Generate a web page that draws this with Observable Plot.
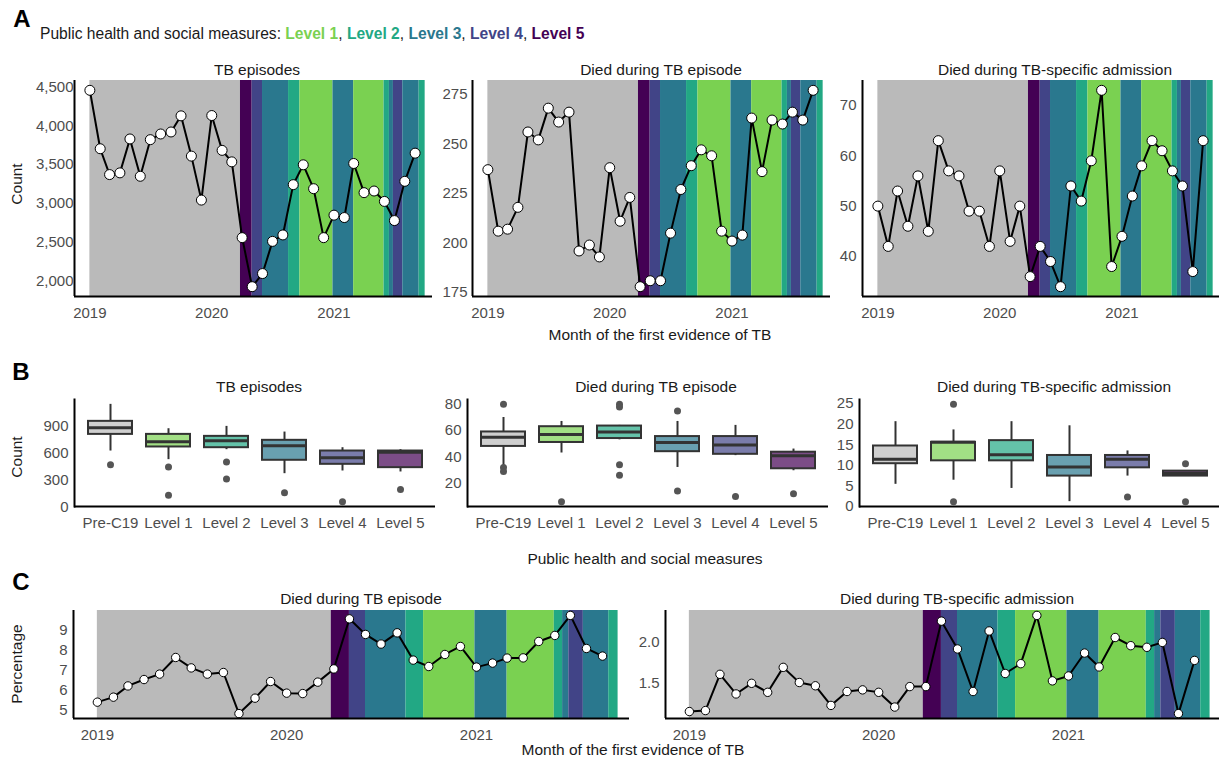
<!DOCTYPE html>
<html><head><meta charset="utf-8">
<script src="https://cdn.jsdelivr.net/npm/d3@7"></script>
<script src="https://cdn.jsdelivr.net/npm/@observablehq/plot@0.6"></script>
<style>
body{margin:0;background:#fff;overflow:hidden;}
#root{position:relative;width:1219px;height:757px;overflow:hidden;font-family:"Liberation Sans",Arial,sans-serif;color:#1a1a1a;}
.t{position:absolute;white-space:nowrap;transform:translate(-50%,-50%);font-size:15.5px;line-height:1;}
.tl{position:absolute;white-space:nowrap;transform:translate(0,-50%);font-size:15.6px;line-height:1;}
.rot{position:absolute;white-space:nowrap;transform:translate(-50%,-50%) rotate(-90deg);font-size:15.5px;line-height:1;}
.big{font-weight:bold;font-size:24px;color:#000;}
</style></head><body><div id="root"></div>
<script>
// ---------- DATA ----------
const months = ["2019-01","2019-02","2019-03","2019-04","2019-05","2019-06","2019-07","2019-08","2019-09","2019-10","2019-11","2019-12",
"2020-01","2020-02","2020-03","2020-04","2020-05","2020-06","2020-07","2020-08","2020-09","2020-10","2020-11","2020-12",
"2021-01","2021-02","2021-03","2021-04","2021-05","2021-06","2021-07","2021-08","2021-09"];
const tbEpisodes = [4457,3704,3371,3393,3830,3349,3821,3894,3920,4128,3609,3042,4132,3683,3535,2558,1926,2095,2510,2593,3241,3497,3189,2558,2848,2817,3514,3138,3159,3025,2778,3284,3647];
const diedEpisode = [237,206,207,218,256,252,268,261,266,196,199,193,238,211,223,178,181,181,205,227,239,247,244,206,201,204,263,236,262,260,266,262,277];
const diedAdmission = [50,42,53,46,56,45,63,57,56,49,49,42,57,43,50,36,42,39,34,54,51,59,73,38,44,52,58,63,61,57,54,37,63];
const pctEpisode = [5.42,5.67,6.23,6.55,6.82,7.65,7.13,6.82,6.90,4.85,5.62,6.45,5.87,5.85,6.42,7.08,9.58,8.80,8.32,8.88,7.52,7.20,7.80,8.20,7.17,7.37,7.62,7.63,8.45,8.75,9.75,8.10,7.72];
const pctAdmission = [1.155,1.167,1.61,1.37,1.50,1.39,1.695,1.51,1.47,1.23,1.40,1.42,1.39,1.21,1.46,1.46,2.26,1.92,1.40,2.14,1.62,1.74,2.33,1.53,1.59,1.87,1.70,2.06,1.96,1.94,2.00,1.13,1.78];

// measure periods
const phaseStart = ["2019-01-01","2020-03-27","2020-05-01","2020-06-01","2020-08-18","2020-09-21","2020-12-29","2021-03-01","2021-05-31","2021-06-16","2021-06-28","2021-07-26","2021-09-13"];
const phaseEnd   = ["2020-03-27","2020-05-01","2020-06-01","2020-08-18","2020-09-21","2020-12-29","2021-03-01","2021-05-31","2021-06-16","2021-06-28","2021-07-26","2021-09-13","2021-10-01"];
const phaseLevel = ["Pre-C19","Level 5","Level 4","Level 3","Level 2","Level 1","Level 3","Level 1","Level 2","Level 3","Level 4","Level 3","Level 2"];

const categories = ["Pre-C19","Level 1","Level 2","Level 3","Level 4","Level 5"];
const levelColors = ["#bababa","#7AD151","#22A884","#2A788E","#414487","#440154"];

// box stats: [lower whisker, q1, median, q3, upper whisker]
const boxTB = [[622,807,881,952,1141],[526,667,726,807,870],[637,659,737,785,896],[370,519,681,741,833],[400,474,548,622,659],[389,437,607,622,637]];
const outTB = [[470],[444,130],[500,311],[159],[59],[193]];
const boxDied = [[33,48,55,59,70],[43,51,57,63,67],[53,54,59,63.5,64],[32,44,51,55.5,67],[41,42,49,55.5,64],[29.5,31,41,43.6,46]];
const outDied = [[80,32,29],[6],[80,78,34,26],[75,14],[10],[12]];
const boxAdm = [[5.4,10.4,11.5,14.7,20.6],[6.4,11.1,15.6,15.6,18.6],[4.4,11.1,12.6,16,20.6],[1.2,7.4,9.6,12.4,19.6],[7.4,9.4,11.5,12.4,13.5],[7.4,7.4,8,8.6,8.6]];
const outAdm = [[],[24.8,1.2],[],[],[2.3],[10.4,1.2]];

const yearTicks = ["2019-01-01","2020-01-01","2021-01-01"];
const xDomainStr = ["2018-11-16","2021-10-23"];

// ---------- BUILD ----------
const pD = d3.utcParse("%Y-%m-%d"), pM = d3.utcParse("%Y-%m");
const dates = months.map(pM);
const series = dates.map((d,i)=>({date:d, tb:tbEpisodes[i], died:diedEpisode[i], adm:diedAdmission[i], pe:pctEpisode[i], pa:pctAdmission[i]}));
const phases = phaseStart.map((s,i)=>({start:pD(s), end:pD(phaseEnd[i]), level:phaseLevel[i]}));
const xDomain = xDomainStr.map(pD);
const colorScale = {domain: categories, range: levelColors};
const FONT = '"Liberation Sans",Arial,sans-serif';
const ML=50, MT=10, MR=10, MB=30;
const root = document.getElementById("root");

function place(svg, f){
  svg.style.position="absolute";
  svg.style.left=(f.l-ML)+"px";
  svg.style.top=(f.t-MT)+"px";
  root.appendChild(svg);
}
function expand(vals){
  const [a,b]=d3.extent(vals); const e=(b-a)*0.05; return [a-e,b+e];
}

function tsPlot(key, f, yTicks, yFmt, r, pad){
  const yd = expand(series.map(d=>d[key]));
  const svg = Plot.plot({
    width: f.r-f.l+ML+MR, height: f.b-f.t+MT+MB,
    marginLeft:ML, marginRight:MR, marginTop:MT, marginBottom:MB,
    style:{fontSize:"15px", fontFamily:FONT, background:"transparent", overflow:"visible"},
    x:{type:"utc", domain:xDomain},
    y:{domain:yd},
    color: colorScale,
    marks:[
      Plot.rect(phases,{x1:"start", x2:"end", y1:()=>yd[0], y2:()=>yd[1], fill:"level"}),
      Plot.line(series,{x:"date", y:key, stroke:"#000", strokeWidth:2}),
      Plot.dot(series,{x:"date", y:key, r, fill:"#fff", stroke:"#000", strokeWidth:1}),
      Plot.ruleY([yd[0]],{stroke:"#000", strokeWidth:2}),
      Plot.ruleX([xDomain[0]],{stroke:"#000", strokeWidth:2}),
      Plot.axisY({ticks:yTicks, tickSize:0, tickPadding:pad, tickFormat:yFmt, color:"#4d4d4d", label:null}),
      Plot.axisX({ticks:yearTicks.map(pD), tickSize:0, tickPadding:11, tickFormat:d3.utcFormat("%Y"), color:"#4d4d4d", label:null})
    ]
  });
  place(svg, f);
}

function boxPlot(stats, outs, f, yTicks){
  const rows = categories.map((c,i)=>({cat:c, lo:stats[i][0], q1:stats[i][1], med:stats[i][2], q3:stats[i][3], hi:stats[i][4]}));
  const orows = [];
  categories.forEach((c,i)=>outs[i].forEach(v=>orows.push({cat:c, v})));
  const yd = expand(rows.flatMap(d=>[d.lo,d.hi]).concat(orows.map(d=>d.v)));
  const svg = Plot.plot({
    width: f.r-f.l+ML+MR, height: f.b-f.t+MT+MB,
    marginLeft:ML, marginRight:MR, marginTop:MT, marginBottom:MB,
    style:{fontSize:"15px", fontFamily:FONT, background:"transparent", overflow:"visible"},
    x:{type:"band", domain:categories, paddingInner:0.25, paddingOuter:0.225},
    y:{domain:yd},
    color: colorScale,
    marks:[
      Plot.ruleX(rows,{x:"cat", y1:"lo", y2:"hi", stroke:"#333", strokeWidth:2}),
      Plot.barY(rows,{x:"cat", y1:"q1", y2:"q3", fill:"#fff"}),
      Plot.barY(rows,{x:"cat", y1:"q1", y2:"q3", fill:"cat", fillOpacity:0.7, stroke:"#333", strokeWidth:2}),
      Plot.tickY(rows,{x:"cat", y:"med", stroke:"#333", strokeWidth:3}),
      Plot.dot(orows,{x:"cat", y:"v", r:3.5, fill:"#555", stroke:"none"}),
      Plot.ruleY([yd[0]],{stroke:"#000", strokeWidth:2}),
      Plot.axisY({ticks:yTicks, tickSize:0, tickPadding:6, color:"#4d4d4d", label:null}),
      Plot.axisX({tickSize:0, tickPadding:11, color:"#4d4d4d", label:null}),
      Plot.frame({anchor:"left", stroke:"#000", strokeWidth:2})
    ]
  });
  place(svg, f);
}

const fA1={l:74,r:432,t:80,b:296}, fA2={l:472,r:830,t:80,b:296}, fA3={l:862,r:1220,t:80,b:296};
const fB1={l:74,r:435,t:399,b:506}, fB2={l:467,r:828,t:399,b:506}, fB3={l:859,r:1220,t:399,b:506};
const fC1={l:73,r:629,t:610,b:718}, fC2={l:665,r:1221,t:610,b:718};

tsPlot("tb", fA1, [2000,2500,3000,3500,4000,4500], d3.format(","), 5, 1);
tsPlot("died", fA2, [175,200,225,250,275], d3.format("d"), 5, 5);
tsPlot("adm", fA3, [40,50,60,70], d3.format("d"), 5, 6);
boxPlot(boxTB, outTB, fB1, [0,300,600,900]);
boxPlot(boxDied, outDied, fB2, [20,40,60,80]);
boxPlot(boxAdm, outAdm, fB3, [0,5,10,15,20,25]);
tsPlot("pe", fC1, [5,6,7,8,9], d3.format("d"), 4.2, 6);
tsPlot("pa", fC2, [1.5,2.0], d3.format(".1f"), 4.2, 6);

// ---------- TEXT ----------
function txt(cls, x, y, html){
  const d=document.createElement("div"); d.className=cls; d.style.left=x+"px"; d.style.top=y+"px"; d.innerHTML=html; root.appendChild(d);
}
txt("t big", 22, 19, "A");
txt("t big", 21, 372, "B");
txt("t big", 21, 582, "C");
const legendParts = categories.slice(1).map((c,i)=>`<b style="color:${levelColors[i+1]}">${c}</b>`).join(", ");
txt("tl", 40, 34, "Public health and social measures: " + legendParts);
txt("t", 257, 70, "TB episodes");
txt("t", 661, 70, "Died during TB episode");
txt("t", 1055, 70, "Died during TB-specific admission");
txt("t", 660, 335, "Month of the first evidence of TB");
txt("rot", 17, 184, "Count");
txt("t", 259, 387, "TB episodes");
txt("t", 656, 387, "Died during TB episode");
txt("t", 1054, 387, "Died during TB-specific admission");
txt("rot", 17, 457, "Count");
txt("t", 645, 559, "Public health and social measures");
txt("t", 361, 599, "Died during TB episode");
txt("t", 957, 599, "Died during TB-specific admission");
txt("rot", 17, 664, "Percentage");
txt("t", 633, 750, "Month of the first evidence of TB");
</script></body></html>
